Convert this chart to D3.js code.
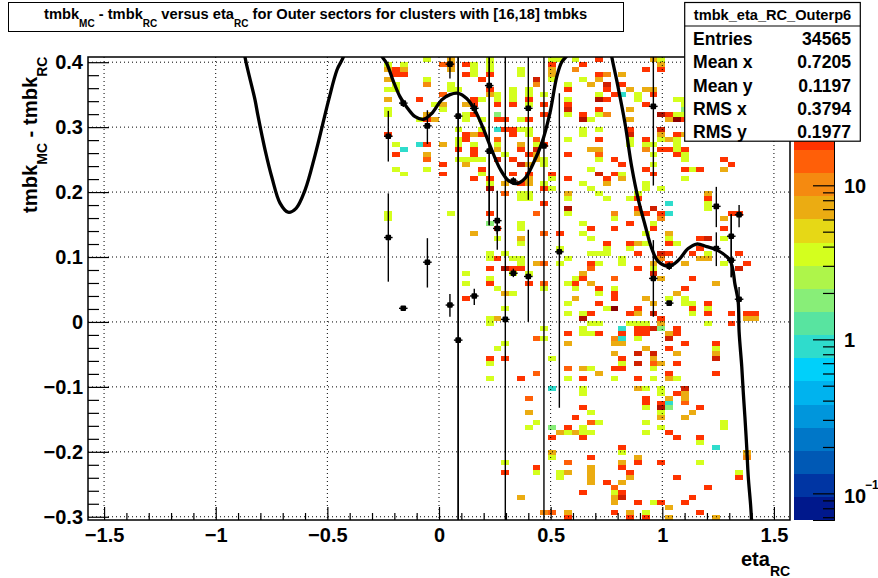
<!DOCTYPE html>
<html><head><meta charset="utf-8">
<script src="https://cdn.jsdelivr.net/npm/d3@7"></script>
<style>html,body{margin:0;padding:0;background:#fff}svg{display:block}text{font-family:"Liberation Sans",Arial,sans-serif;font-weight:bold;fill:#000}</style>
</head><body><div id="c"></div>
<script>
const T=1,L=2,Y=4,G=7,O=10,F=14,R=20,D=30,B=45,M=60;
// [eta bin, row from top, count]
const cells=[
[43,0,Y],[46,0,G],[51,0,Y],[59,0,Y],[60,0,Y],[62,0,Y],[65,0,R],[72,0,G],[73,0,Y],
[38,1,Y],[40,1,Y],[45,1,F],[46,1,O],[48,1,R],[49,1,Y],[51,1,Y],[59,1,R],[63,1,R],[73,1,G],
[38,2,G],[39,2,R],[40,2,G],[46,2,G],[49,2,Y],[51,2,Y],[55,2,Y],[59,2,G],[62,2,O],[71,2,R],[73,2,R],
[39,3,R],[40,3,R],[48,3,R],[49,3,Y],[51,3,R],[55,3,Y],[59,3,G],[65,3,R],[66,3,O],[68,3,G],
[38,4,G],[43,4,Y],[50,4,R],[57,4,D],[59,4,Y],[63,4,Y],[65,4,G],
[39,5,Y],[43,5,O],[46,5,Y],[57,5,O],[61,5,Y],[64,5,G],[66,5,D],[68,5,R],
[38,6,Y],[39,6,Y],[46,6,Y],[47,6,Y],[51,6,R],[54,6,Y],[56,6,Y],[61,6,R],[66,6,R],[69,6,G],[71,6,G],[72,6,G],
[45,7,F],[51,7,G],[52,7,Y],[54,7,Y],[56,7,Y],[58,7,Y],[65,7,Y],[67,7,R],[68,7,T],[70,7,Y],[72,7,R],
[38,8,G],[42,8,R],[49,8,R],[50,8,Y],[52,8,Y],[54,8,Y],[56,8,R],[61,8,Y],[65,8,B],[66,8,R],[70,8,Y],[75,8,Y],[76,8,Y],
[44,9,Y],[45,9,G],[48,9,G],[49,9,R],[52,9,R],[54,9,R],[56,9,Y],[58,9,R],[61,9,R],[71,9,R],[76,9,Y],
[38,10,Y],[45,10,Y],[61,10,D],[65,10,R],[69,10,G],[76,10,L],
[38,11,Y],[43,11,G],[48,11,Y],[49,11,R],[52,11,L],[58,11,R],[61,11,Y],[63,11,R],[65,11,Y],[66,11,O],[73,11,B],[74,11,R],[75,11,Y],[76,11,Y],
[42,12,Y],[43,12,R],[44,12,G],[48,12,Y],[50,12,Y],[52,12,R],[53,12,R],[55,12,Y],[56,12,R],[63,12,B],[64,12,Y],[69,12,G],[74,12,G],[75,12,M],[76,12,R],
[47,14,Y],[50,14,Y],[52,14,T],[53,14,R],[54,14,R],[55,14,Y],[56,14,Y],[63,14,Y],[65,14,Y],[69,14,R],[73,14,D],
[38,15,R],[48,15,R],[49,15,G],[50,15,R],[54,15,R],[56,15,Y],[63,15,Y],[69,15,D],[73,15,G],[75,15,R],[76,15,G],
[47,16,Y],[48,16,R],[52,16,F],[57,16,F],[61,16,Y],[65,16,R],[69,16,Y],[71,16,R],[73,16,Y],[74,16,G],[75,16,Y],
[39,17,Y],[42,17,T],[43,17,R],[45,17,G],[47,17,Y],[49,17,Y],[52,17,Y],[55,17,G],[57,17,Y],[58,17,R],[69,17,Y],[71,17,Y],[72,17,Y],[75,17,Y],
[40,18,T],[47,18,R],[49,18,R],[52,18,G],[55,18,R],[57,18,D],[64,18,G],[65,18,G],[71,18,O],[73,18,R],[74,18,R],[75,18,Y],[76,18,R],
[39,19,R],[43,19,G],[49,19,R],[53,19,Y],[56,19,R],[57,19,G],[61,19,R],[65,19,F],[72,19,Y],[75,19,R],[76,19,Y],
[43,20,F],[47,20,Y],[48,20,Y],[49,20,Y],[50,20,Y],[52,20,D],[54,20,R],[57,20,G],[58,20,Y],[65,20,Y],[67,20,R],[76,20,Y],[81,20,R],
[45,21,R],[48,21,G],[55,21,D],[56,21,G],[58,21,Y],[68,21,R],[72,21,Y],[82,21,R],
[39,22,Y],[43,22,Y],[50,22,R],[64,22,Y],[71,22,R],[76,22,R],[77,22,Y],[78,22,R],[81,22,G],
[40,23,Y],[45,23,R],[50,23,Y],[54,23,R],[56,23,R],[59,23,R],[65,23,D],[67,23,R],[68,23,Y],[72,23,R],
[49,24,R],[51,24,R],[56,24,G],[59,24,Y],[61,24,R],[66,24,R],[68,24,G],[76,24,Y],
[51,25,Y],[53,25,G],[55,25,R],[56,25,G],[58,25,Y],[63,25,Y],[66,25,G],[71,25,Y],
[51,26,B],[58,26,R],[59,26,Y],[64,26,Y],[71,26,Y],[73,26,Y],
[53,27,F],[55,27,Y],[56,27,Y],[61,27,G],[65,27,Y],[70,27,Y],[79,27,G],
[55,28,Y],[56,28,Y],[61,28,Y],[66,28,Y],[69,28,Y],[70,28,R],[79,28,R],
[58,29,R],[74,29,T],[79,29,Y],
[61,30,B],[70,30,R],[72,30,D],[79,30,Y],
[38,31,Y],[46,31,Y],[51,31,R],[57,31,F],[61,31,Y],[67,31,O],[70,31,G],[71,31,R],[73,31,R],[74,31,T],[82,31,R],[83,31,R],
[38,32,Y],[67,32,Y],[73,32,O],[81,32,G],
[51,33,L],[55,33,Y],[63,33,Y],[69,33,R],[72,33,Y],
[52,34,R],[55,34,Y],[64,34,R],[67,34,R],[72,34,R],[81,34,R],
[49,35,G],[58,35,F],[60,35,R],[63,35,Y],[71,35,Y],[74,35,G],
[52,36,Y],[55,36,G],[64,36,Y],[74,36,Y],[78,36,R],[79,36,D],[81,36,Y],
[55,37,Y],[66,37,R],[69,37,R],[70,37,G],[71,37,Y],[74,37,R],[75,37,Y],
[60,38,Y],[66,38,Y],[69,38,Y],[78,38,R],
[51,39,Y],[53,39,Y],[64,39,Y],[65,39,Y],[66,39,Y],[70,39,R],[73,39,D],[74,39,R],[77,39,R],[79,39,Y],[83,39,R],
[51,40,Y],[52,40,R],[54,40,Y],[55,40,Y],[61,40,Y],[68,40,Y],[73,40,O],[78,40,G],[79,40,G],
[55,41,Y],[57,41,G],[58,41,F],[60,41,Y],[64,41,R],[65,41,Y],[68,41,Y],[72,41,G],[74,41,R],[76,41,G],[81,41,Y],[84,41,R],
[51,42,R],[53,42,B],[54,42,R],[55,42,R],[64,42,F],[70,42,R],[72,42,Y],[83,42,D],
[48,43,Y],[54,43,Y],[56,43,Y],[63,43,G],[72,43,D],
[51,44,Y],[62,44,Y],[63,44,R],[67,44,F],[73,44,G],[77,44,R],
[48,45,Y],[51,45,R],[56,45,R],[58,45,F],[61,45,Y],[62,45,R],[64,45,G],[80,45,G],
[52,46,Y],[58,46,Y],[62,46,Y],[65,46,R],[67,46,Y],[76,46,R],
[53,47,G],[54,47,Y],[65,47,Y],[67,47,R],[75,47,G],
[48,48,R],[62,48,G],[67,48,R],[71,48,G],[74,48,Y],[76,48,Y],
[61,49,Y],[65,49,R],[72,49,G],[76,49,Y],[77,49,Y],[79,49,R],
[53,50,Y],[66,50,Y],[67,50,M],[70,50,R],[77,50,R],[79,50,Y],
[61,51,Y],[63,51,Y],[64,51,R],[69,51,R],[70,51,G],[72,51,D],[77,51,Y],[79,51,R],[82,51,R],[84,51,R],[85,51,R],
[51,52,Y],[52,52,G],[63,52,B],[73,52,R],[84,52,G],[85,52,G],
[51,53,Y],[64,53,Y],[65,53,Y],[69,53,Y],[70,53,Y],[71,53,Y],[73,53,G],[79,53,Y],[82,53,R],
[58,54,Y],[63,54,Y],[68,54,T],[70,54,R],[71,54,R],[72,54,D],[73,54,L],[75,54,R],
[61,55,R],[63,55,Y],[64,55,Y],[65,55,R],[68,55,R],[70,55,R],[71,55,R],[74,55,G],[75,55,R],
[57,56,F],[58,56,Y],[67,56,O],[68,56,T],[70,56,Y],[74,56,D],
[53,57,Y],[61,57,G],[67,57,G],[68,57,G],[76,57,R],[80,57,R],
[52,58,Y],[71,58,G],[74,58,R],[80,58,Y],
[67,59,G],[70,59,D],[72,59,D],[75,59,G],[80,59,G],
[51,60,R],[53,60,R],[59,60,Y],[68,60,R],[72,60,G],[80,60,D],
[51,61,Y],[68,61,Y],[70,61,D],[72,61,F],[73,61,G],[75,61,R],
[61,62,F],[63,62,G],[64,62,Y],[67,62,R],[68,62,R],[72,62,Y],
[57,63,F],[65,63,G],[74,63,R],[80,63,R],
[51,64,Y],[55,64,R],[61,64,Y],[63,64,R],[67,64,Y],[70,64,R],[72,64,Y],[74,64,G],[75,64,Y],
[59,66,T],[63,66,Y],[70,66,G],[71,66,Y],[73,66,Y],[76,66,D],
[63,67,Y],[73,67,Y],[75,67,R],[76,67,G],
[56,68,F],[71,68,R],[74,68,G],[76,68,G],
[71,69,R],[73,69,R],[74,69,T],[76,69,F],
[63,70,R],[71,70,Y],[73,70,B],[74,70,L],[78,70,R],
[56,71,G],[64,71,Y],[73,71,Y],[77,71,G],
[62,72,R],[73,72,G],[76,72,G],
[57,73,Y],[64,73,F],[65,73,Y],[71,73,Y],[81,73,Y],
[56,74,Y],[59,74,L],[61,74,R],[63,74,Y],[73,74,Y],[81,74,Y],
[60,75,G],[61,75,Y],[62,75,G],[63,75,Y],[64,75,Y],[71,75,Y],[74,75,R],
[59,76,R],[63,76,R],[75,76,R],[78,76,R],
[78,77,Y],
[68,78,R],[80,78,T],
[59,79,G],[68,79,Y],[84,79,G],
[59,80,Y],[64,80,R],[70,80,G],[84,80,O],
[53,81,Y],[61,81,F],[68,81,G],[70,81,R],[73,81,R],[78,81,Y],
[57,82,R],[64,82,G],[68,82,R],
[53,83,R],[57,83,Y],[60,83,Y],[61,83,G],[64,83,G],[69,83,R],[83,83,Y],
[60,84,Y],[64,84,G],[69,84,G],[75,84,R],[83,84,R],
[64,85,G],[66,85,R],[68,85,G],
[67,86,F],[79,86,R],
[63,87,R],[67,87,Y],[68,87,R],
[55,88,G],[67,88,G],[68,88,D],[77,88,R],
[67,89,G],[70,89,R],[72,89,Y],[73,89,R],[76,89,R],
[74,90,G],
[58,91,O],[59,91,F],[61,91,G],[67,91,R],[69,91,G],[71,91,Y],[78,91,R],
[61,92,R],[69,92,R],[71,92,R],[74,92,G],[80,92,G]
];
// fit curve
const curveEta=[-0.891,-0.869,-0.824,-0.811,-0.779,-0.748,-0.712,-0.676,-0.640,-0.600,-0.555,-0.494,-0.457,-0.421,-0.345,-0.264,-0.234,-0.206,-0.175,-0.145,-0.107,-0.070,-0.033,0.012,0.049,0.086,0.124,0.161,0.198,0.236,0.273,0.310,0.348,0.385,0.422,0.460,0.497,0.527,0.549,0.582,0.676,0.770,0.796,0.833,0.863,0.893,0.923,0.953,0.982,1.031,1.072,1.116,1.154,1.199,1.244,1.303,1.326,1.340,1.344,1.356,1.363,1.370,1.378,1.385,1.396,1.402];
const curveVal=[0.46,0.408,0.342,0.318,0.265,0.222,0.183,0.169,0.175,0.203,0.257,0.342,0.388,0.415,0.62,0.415,0.398,0.372,0.347,0.331,0.316,0.312,0.321,0.342,0.350,0.352,0.344,0.326,0.298,0.265,0.236,0.218,0.213,0.221,0.244,0.275,0.322,0.377,0.400,0.415,0.62,0.415,0.372,0.306,0.239,0.188,0.149,0.113,0.093,0.086,0.095,0.113,0.120,0.116,0.111,0.095,0.057,0.031,-0.015,-0.069,-0.110,-0.146,-0.192,-0.238,-0.284,-0.32];
// points: eta, value, low, high
const points=[
[-0.227,0.286,0.247,0.325],[-0.227,0.130,0.062,0.198],
[-0.160,0.337,0.331,0.342],[-0.160,0.021,0.021,0.021],
[-0.052,0.302,0.274,0.326],[-0.052,0.092,0.053,0.129],
[0.049,0.397,0.375,0.408],[0.049,0.026,0.008,0.043],
[0.086,0.317,-0.305,0.408],[0.086,-0.028,-0.305,0.408],
[0.158,0.329,0.321,0.337],[0.158,0.040,0.026,0.051],
[0.225,0.364,0.149,0.408],[0.225,0.263,0.149,0.408],
[0.261,0.156,0.111,0.202],[0.261,0.144,0.135,0.153],
[0.297,0.004,-0.305,0.408],
[0.333,0.217,0.211,0.223],[0.333,0.075,0.069,0.082],
[0.400,0.329,0.188,0.408],[0.400,0.070,0,0.142],
[0.470,0.271,-0.305,0.408],
[0.539,0.108,-0.132,0.352],
[0.960,0.332,0.210,0.408],[0.960,0.067,0.008,0.126],
[1.031,0.086,0.080,0.092],[1.031,0.029,0.025,0.032],
[1.242,0.178,0.146,0.208],[1.242,0.113,0.086,0.138],
[1.309,0.132,0.069,0.166],[1.309,0.095,0.069,0.166],
[1.344,0.165,0.146,0.180],[1.344,0.035,0.015,0.054]
];
const palette=["#00188c","#0035a3","#0059b5","#0077c8","#0096dc","#00b3ee","#00d0fa","#2fdccc","#58e4a0","#88ee78","#aef54a","#d4ff1e","#e6d816","#ebac12","#f58a10","#ff5f08","#ff3300","#d02000","#b01000","#8b0000"];
const xMajor=[-1.5,-1,-0.5,0,0.5,1,1.5];
const yMajor=[-0.3,-0.2,-0.1,0,0.1,0.2,0.3,0.4];
const statRows=[["Entries","34565"],["Mean x","0.7205"],["Mean y","0.1197"],["RMS x","0.3794"],["RMS y","0.1977"]];
const statName="tmbk_eta_RC_Outerp6";

const W=878,H=578,L0=88,R0=790,T0=57,B0=520;
const etaMin=-1.572,etaMax=1.572,valMin=-0.305,valMax=0.408,nx=90,ny=93;
const svg=d3.select("#c").append("svg").attr("width",W).attr("height",H);
const x=d3.scaleLinear([etaMin,etaMax],[L0,R0]);
const y=d3.scaleLinear([valMin,valMax],[B0,T0]);
const dx=(etaMax-etaMin)/nx,dy=(valMax-valMin)/ny;
const logMin=-1.173,logMax=1.833;
const color=d3.scaleQuantize([logMin,logMax],palette);

svg.append("defs").append("clipPath").attr("id","pc").append("rect").attr("x",L0).attr("y",T0).attr("width",R0-L0).attr("height",B0-T0);

// cells, snapped to whole pixels so every one keeps its full size
const xL=k=>Math.round(x(etaMin+k*dx)),yT=r=>Math.round(y(valMax-r*dy));
svg.append("g").selectAll("rect").data(cells).join("rect")
 .attr("x",d=>xL(d[0])).attr("width",d=>xL(d[0]+1)-xL(d[0]))
 .attr("y",d=>yT(d[1])).attr("height",d=>yT(d[1]+1)-yT(d[1]))
 .attr("fill",d=>color(Math.log10(d[2]))).attr("shape-rendering","crispEdges");

// grid
const grid=svg.append("g").attr("stroke","#000").attr("stroke-width",1).attr("stroke-dasharray","1 3");
xMajor.forEach(v=>grid.append("line").attr("x1",x(v)).attr("x2",x(v)).attr("y1",T0).attr("y2",B0));
yMajor.forEach(v=>grid.append("line").attr("y1",y(v)).attr("y2",y(v)).attr("x1",L0).attr("x2",R0));

// axes
const xMinor=d3.range(-15,16).map(v=>v/10).filter(v=>!xMajor.includes(v));
const yMinor=d3.range(-15,21).map(v=>v/50).filter(v=>v>=valMin&&v<=valMax&&!yMajor.some(m=>Math.abs(m-v)<1e-6));
const ax=svg.append("g").attr("transform",`translate(0,${B0})`).call(d3.axisBottom(x).tickValues(xMajor).tickSize(-13).tickPadding(8).tickFormat(d3.format("~g")));
const ax2=svg.append("g").attr("transform",`translate(0,${B0})`).call(d3.axisBottom(x).tickValues(xMinor).tickSize(-7).tickFormat(""));
const ay=svg.append("g").attr("transform",`translate(${L0},0)`).call(d3.axisLeft(y).tickValues(yMajor).tickSize(-21).tickPadding(5).tickFormat(d3.format("~g")));
const ay2=svg.append("g").attr("transform",`translate(${L0},0)`).call(d3.axisLeft(y).tickValues(yMinor).tickSize(-11).tickFormat(""));
[ax,ay].forEach(g=>g.selectAll("text").attr("font-size",20).attr("font-family",'"Liberation Sans"').attr("font-weight","bold").attr("fill","#000"));
[ax,ax2,ay,ay2].forEach(g=>{g.select(".domain").remove();g.selectAll("line").attr("stroke","#000").attr("stroke-width",1.2);});
svg.append("rect").attr("x",L0).attr("y",T0).attr("width",R0-L0).attr("height",B0-T0).attr("fill","none").attr("stroke","#000").attr("stroke-width",1.5);

// curve
const plot=svg.append("g").attr("clip-path","url(#pc)");
plot.append("path").datum(d3.zip(curveEta,curveVal))
 .attr("d",d3.line().x(d=>x(d[0])).y(d=>y(d[1])).curve(d3.curveCatmullRom))
 .attr("fill","none").attr("stroke","#000").attr("stroke-width",3.3).attr("stroke-linejoin","round");

// points
const pg=plot.append("g").attr("stroke","#000").attr("stroke-width",1.4);
points.forEach(p=>{
 const px=x(p[0]),py=y(p[1]);
 pg.append("line").attr("x1",px).attr("x2",px).attr("y1",y(p[2])).attr("y2",y(p[3]));
 pg.append("line").attr("x1",px-4.3).attr("x2",px+4.3).attr("y1",py).attr("y2",py);
 pg.append("rect").attr("x",px-2.8).attr("y",py-2.8).attr("width",5.6).attr("height",5.6).attr("rx",1).attr("fill","#000").attr("stroke","none");
});

// colour bar
const cbL=794,cbR=834;
const z=d3.scaleLog([Math.pow(10,logMin),Math.pow(10,logMax)],[B0,T0]);
svg.append("g").selectAll("rect").data(palette).join("rect")
 .attr("x",cbL).attr("width",cbR-cbL)
 .attr("y",(d,i)=>B0-(i+1)*(B0-T0)/20).attr("height",(B0-T0)/20+0.3).attr("fill",d=>d).attr("shape-rendering","crispEdges");
const zMajor=[0.1,1,10];
const zMinor=[];[0.01,0.1,1,10].forEach(m=>[2,3,4,5,6,7,8,9].forEach(k=>{const v=m*k;if(z(v)<=B0&&z(v)>=T0)zMinor.push(v);}));
const za=svg.append("g").attr("transform",`translate(${cbR},0)`).call(d3.axisRight(z).tickValues(zMajor).tickSize(-21).tickFormat(""));
const zb=svg.append("g").attr("transform",`translate(${cbR},0)`).call(d3.axisRight(z).tickValues(zMinor).tickSize(-11).tickFormat(""));
[za,zb].forEach(g=>{g.select(".domain").attr("stroke","#000");g.selectAll("line").attr("stroke","#000").attr("stroke-width",1.2);});
svg.append("text").attr("x",844).attr("y",z(10)+8).attr("font-size",20).text("10");
svg.append("text").attr("x",844).attr("y",z(1)+8).attr("font-size",20).text("1");
svg.append("text").attr("x",844).attr("y",z(0.1)+10).attr("font-size",20).text("10");
svg.append("text").attr("x",865).attr("y",z(0.1)-4).attr("font-size",12).text("−1");

// title box
svg.append("rect").attr("x",8.5).attr("y",2.5).attr("width",615).attr("height",29).attr("fill","#fff").attr("stroke","#000").attr("stroke-width",1);
const tt=svg.append("text").attr("x",44).attr("y",19).attr("font-size",14.7);
[["tmbk",0],["MC",1],[" - tmbk",0],["RC",1],[" versus eta",0],["RC",1],[" for Outer sectors for clusters with [16,18] tmbks",0]].forEach(([s,sub],i,a)=>{
 const prev=i>0&&a[i-1][1];
 const span=tt.append("tspan").text(s);
 span.style("white-space","pre");
 if(sub)span.attr("dy",8).attr("font-size",10);
 else if(prev)span.attr("dy",-8).attr("font-size",14.7);
});

// x title
const xt=svg.append("text").attr("x",741).attr("y",566).attr("font-size",20);
xt.append("tspan").text("eta");
xt.append("tspan").text("RC").attr("dy",10).attr("font-size",14);
// y title
const yt=svg.append("text").attr("transform","translate(37,213) rotate(-90)").attr("font-size",20.2);
yt.append("tspan").text("tmbk");
yt.append("tspan").text("MC").attr("dy",10).attr("font-size",14);
yt.append("tspan").text(" - tmbk").attr("dy",-10).style("white-space","pre");
yt.append("tspan").text("RC").attr("dy",10).attr("font-size",14);

// stats box
svg.append("rect").attr("x",684.7).attr("y",2.5).attr("width",175.6).attr("height",138.7).attr("fill","#fff").attr("stroke","#000").attr("stroke-width",1.2);
svg.append("line").attr("x1",684.7).attr("x2",860.3).attr("y1",26).attr("y2",26).attr("stroke","#000").attr("stroke-width",1.2);
svg.append("text").attr("x",772.5).attr("y",20).attr("text-anchor","middle").attr("font-size",14.6).text(statName);
statRows.forEach((r,i)=>{
 const by=[45,68,92,115,138][i];
 svg.append("text").attr("x",693).attr("y",by).attr("font-size",17.6).text(r[0]);
 svg.append("text").attr("x",851).attr("y",by).attr("text-anchor","end").attr("font-size",17.6).text(r[1]);
});
</script></body></html>
